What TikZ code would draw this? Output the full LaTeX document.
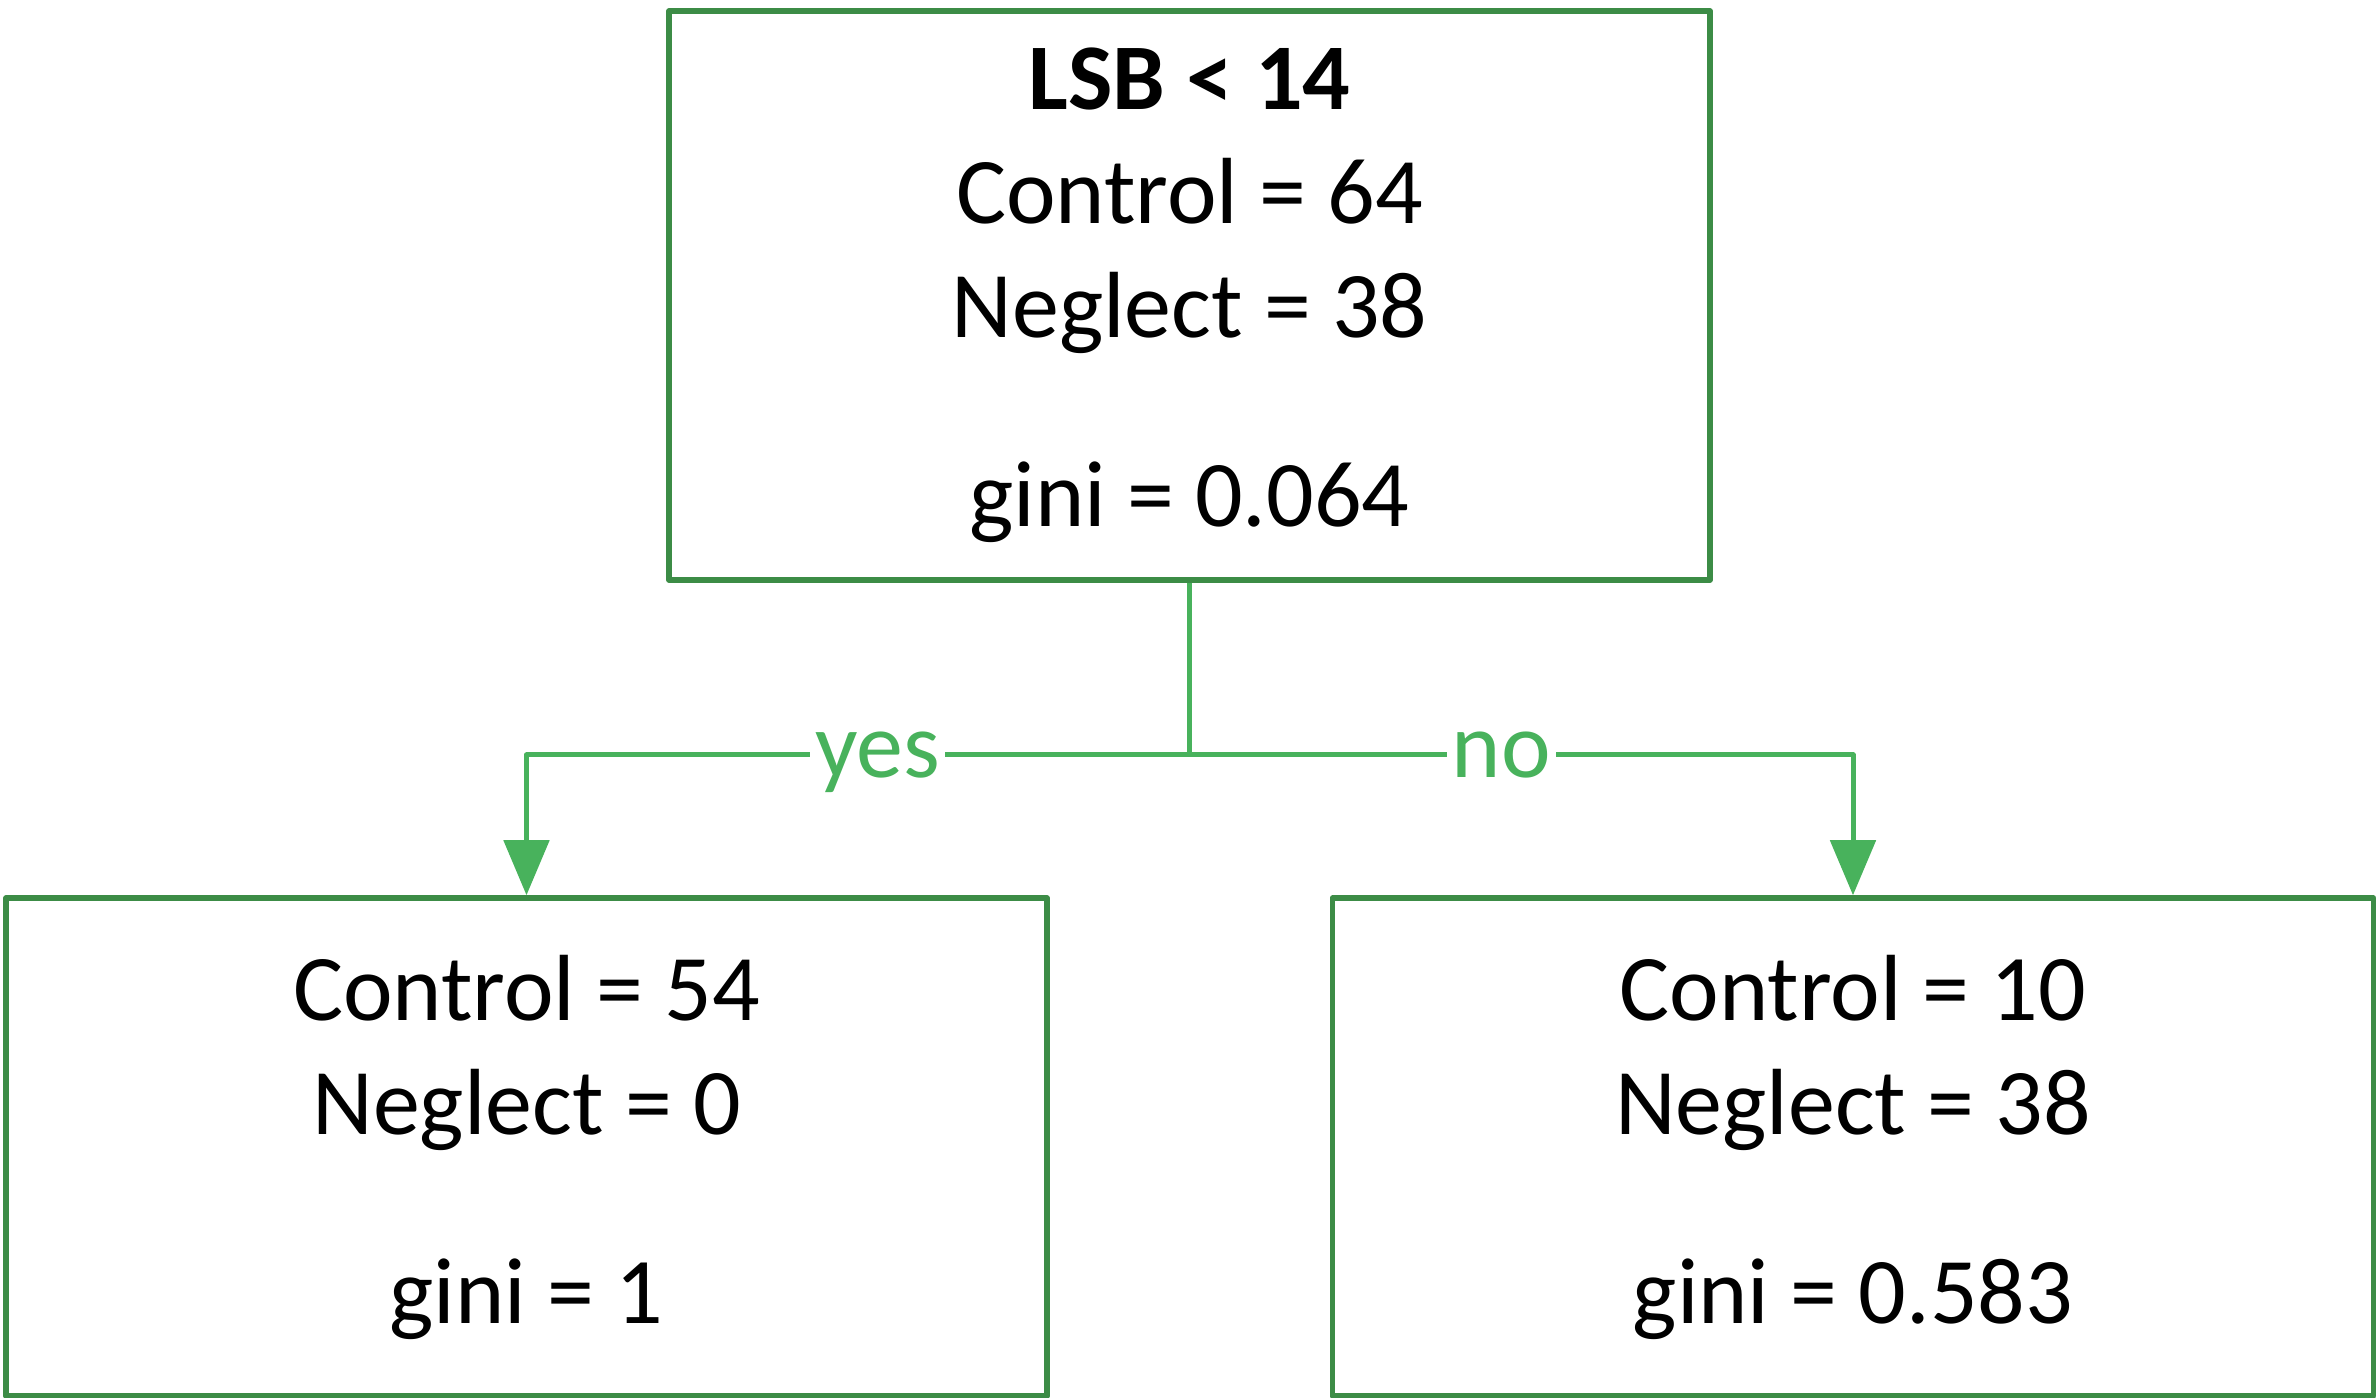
\documentclass[tikz,border=0pt]{standalone}
\usepackage{fontspec}
\setmainfont{Carlito}
\usetikzlibrary{arrows.meta}
\definecolor{boxgreen}{RGB}{60,140,70}
\definecolor{linkgreen}{RGB}{72,178,92}
\begin{document}
\begin{tikzpicture}[x=0.2pt, y=-0.2pt, font=\fontsize{18.8}{22.8}\selectfont, line join=round,
 leaf/.style={draw=boxgreen, line width=1.1pt, minimum width=208.2pt, align=center, inner sep=0pt},
 link/.style={draw=linkgreen, line width=1pt},
 answer/.style={fill=white, text=linkgreen, inner sep=1pt, text depth=0pt, pos=.47},
 >={Triangle[width=9pt,length=11pt]}]
 \useasboundingbox (0,0) rectangle (2379,1398);
 \node[leaf, minimum height=113.8pt] (root) at (1189.5,295.5)
  {\textbf{LSB < 14}\\Control = 64\\Neglect = 38\\[15pt]gini = 0.064};
 \node[leaf, minimum height=99.6pt] (yesleaf) at (526.5,1147)
  {Control = 54\\Neglect = 0\\[15pt]gini = 1};
 \node[leaf, minimum height=99.6pt] (noleaf) at (1853,1147)
  {Control = 10\\Neglect = 38\\[15pt]gini = 0.583};
 \coordinate (split) at (1189.5,755);
 \draw[link] (root.south) -- (split);
 \draw[link,->] (split) -- node[answer]{yes} (split -| yesleaf.north) -- (yesleaf.north);
 \draw[link,->] (split) -- node[answer]{no} (split -| noleaf.north) -- (noleaf.north);
\end{tikzpicture}
\end{document}
